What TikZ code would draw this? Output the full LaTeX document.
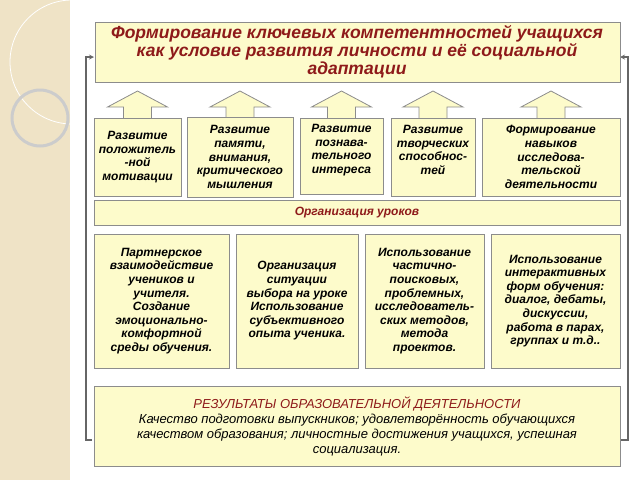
\documentclass[tikz,border=0pt]{standalone}
\usepackage{fontspec}
\setmainfont{Liberation Sans}
\definecolor{bg}{HTML}{EFE3C6}
\definecolor{fl}{HTML}{FDFBCB}
\definecolor{dr}{HTML}{8E1A1A}
\begin{document}
\begin{tikzpicture}[x=1pt,y=-1pt,
 box/.style={draw=black!45,fill=fl,line width=0.8pt},
 txt/.style={font=\fontsize{12}{13.6}\selectfont\bfseries\itshape,align=center},
 red/.style={text=dr}]
\useasboundingbox (0,0) rectangle (640,480);
\fill[bg] (0,0) rectangle (70,480);
\begin{scope}
\clip (0,0) rectangle (70,480);
\draw[white,line width=0.8pt] (72,62) circle (62);
\draw[black!20,line width=3pt] (40,118) circle (28);
\end{scope}
\draw[black!60,line width=1.2pt,-stealth] (92,440) -- (86,440) -- (86,57) -- (94,57);
\draw[black!60,line width=1.2pt,-stealth] (620,440) -- (628,440) -- (628,57) -- (620,57);
\draw[box] (95,22) rectangle (620,82);
\node[txt,red,font=\fontsize{17.5}{18}\selectfont\bfseries\itshape] (title) at (357,52) {Формирование ключевых компетентностей учащихся\\как условие развития личности и её социальной\\адаптации};
\foreach \l/\r/\n in {94/181/1,187/293/2,300/383/3,391/475/4,482/620/5}{
 \pgfmathsetmacro{\c}{(\l+\r)/2}
 \draw[box] (\c-14,118) -- (\c-14,107) -- (\c-30,107) -- (\c,91) -- (\c+30,107) -- (\c+14,107) -- (\c+14,118);
}
\draw[box] (94,118) rectangle (181,196);
\node[txt] (b1) at (137.5,157) {Развитие\\положитель\\-ной\\мотивации};
\draw[box] (187,117) rectangle (293,197);
\node[txt] (b2) at (240,157) {Развитие\\памяти,\\внимания,\\критического\\мышления};
\draw[box] (300,118) rectangle (383,194);
\node[txt] (b3) at (341.5,150) {Развитие\\познава-\\тельного\\интереса};
\draw[box] (391,118) rectangle (475,196);
\node[txt] (b4) at (433,150) {Развитие\\творческих\\способнос-\\тей};
\draw[box] (482,118) rectangle (620,196);
\node[txt] (b5) at (551,157) {Формирование\\навыков\\исследова-\\тельской\\деятельности};
\draw[box] (94,200) rectangle (620,225);
\node[txt,red] (org) at (357,212.5) {Организация уроков};
\draw[box] (94,234) rectangle (229,368);
\node[txt] (c1) at (161.5,301) {Партнерское\\взаимодействие\\учеников и\\учителя.\\Создание\\эмоционально-\\комфортной\\среды обучения.};
\draw[box] (236,234) rectangle (358,368);
\node[txt] (c2) at (297,301) {Организация\\ситуации\\выбора на уроке\\Использование\\субъективного\\опыта ученика.};
\draw[box] (365,234) rectangle (484,368);
\node[txt] (c3) at (424.5,301) {Использование\\частично-\\поисковых,\\проблемных,\\исследователь-\\ских методов,\\метода\\проектов.};
\draw[box] (491,234) rectangle (620,368);
\node[txt] (c4) at (555.5,301) {Использование\\интерактивных\\форм обучения:\\диалог, дебаты,\\дискуссии,\\работа в парах,\\группах и т.д..};
\draw[box] (94,386) rectangle (620,466);
\node[txt,font=\fontsize{13}{15}\selectfont\itshape] (r) at (357,426) {\textcolor{dr}{РЕЗУЛЬТАТЫ ОБРАЗОВАТЕЛЬНОЙ ДЕЯТЕЛЬНОСТИ}\\Качество подготовки выпускников; удовлетворённость обучающихся\\качеством образования; личностные достижения учащихся, успешная\\социализация.};
\end{tikzpicture}
\end{document}
